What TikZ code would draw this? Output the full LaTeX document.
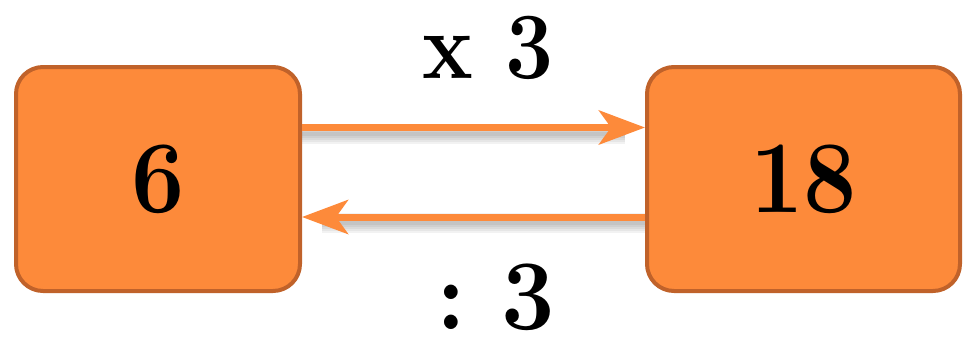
\documentclass[tikz,border=0pt]{standalone}
\usepackage{fontspec}
\usetikzlibrary{arrows.meta}
\definecolor{boxfill}{RGB}{253,138,58}
\definecolor{boxline}{RGB}{192,98,42}
\definecolor{arrcol}{RGB}{253,138,58}
\tikzset{
  numbox/.style={draw=boxline, line width=4pt, fill=boxfill, rounded corners=27pt,
    inner sep=0pt, font=\fontsize{103}{110}\selectfont\bfseries},
  conn/.style={draw=arrcol, line width=7pt,
    -{Stealth[length=46pt, width=34pt, inset=12pt]}},
  lbl/.style={inner sep=0pt},
}
\begin{document}
\begin{tikzpicture}[x=1pt, y=-1pt]
\useasboundingbox (0,0) rectangle (967,338);
\node[numbox, minimum width=284pt, minimum height=224pt] (a) at (158,179) {\scalebox{0.92}[1]{6}};
\node[numbox, minimum width=313pt, minimum height=224pt] (b) at (803.5,179) {\scalebox{0.92}[1]{18}};
\coordinate (t1) at ([yshift=51.5pt]a.east);
\coordinate (t2) at ([yshift=51.5pt]b.west);
\coordinate (u1) at ([yshift=-38pt]b.west);
\coordinate (u2) at ([yshift=-38pt]a.east);
% soft shadows
\foreach \w in {4,8,12,16,20}{
  \draw[black, opacity=0.05, line width=\w pt] ([yshift=-6pt]t1) -- ([yshift=-6pt,xshift=-20pt]t2);
  \draw[black, opacity=0.05, line width=\w pt] ([yshift=-6pt]u1) -- ([yshift=-6pt,xshift=20pt]u2);
}
\draw[conn] (t1) -- (t2);
\draw[conn] (u1) -- (u2);
\node[lbl, font=\fontsize{95}{100}\selectfont\bfseries] (l1) at (488,47.5) {\scalebox{0.9}[1]{x\ 3}};
\node[lbl, font=\fontsize{100}{106}\selectfont\bfseries] (l2) at (496,297.5) {\scalebox{0.95}[1]{:\ 3}};
\end{tikzpicture}
\end{document}
